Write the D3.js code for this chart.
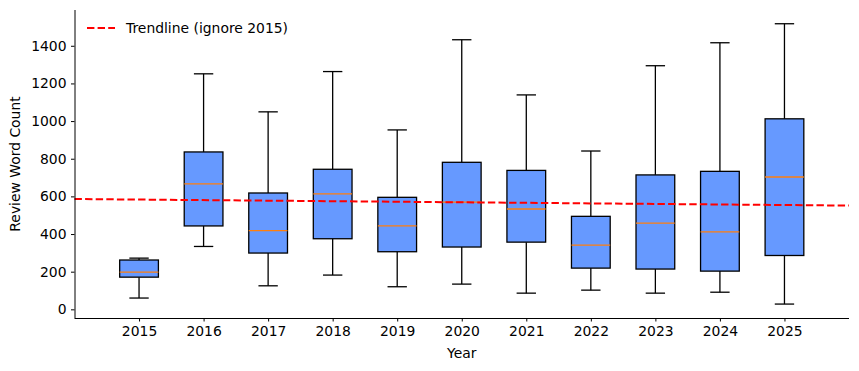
<!DOCTYPE html>
<html>
<head>
<meta charset="utf-8">
<title>Review word count by year</title>
<style>
  html, body { margin: 0; padding: 0; background: #fff; }
  svg { display: block; font-family: "DejaVu Sans", sans-serif; }
</style>
</head>
<body>
<svg id="chart" width="859" height="371"></svg>
<script src="https://cdn.jsdelivr.net/npm/d3@7/dist/d3.min.js"></script>
<script>
// box stats
const years      = ["2015","2016","2017","2018","2019","2020","2021","2022","2023","2024","2025"];
const whiskerLow = [60, 334, 125, 182, 120, 134, 86, 102, 86, 91, 28];
const q1         = [171, 443, 299, 375, 306, 331, 357, 219, 214, 203, 286];
const medians    = [198, 666, 418, 613, 443, 570, 533, 341, 458, 411, 703];
const q3         = [262, 836, 618, 744, 595, 781, 738, 494, 714, 733, 1012];
const whiskerHigh= [272, 1251, 1049, 1263, 953, 1432, 1139, 841, 1294, 1416, 1517];
const yTicks     = [0, 200, 400, 600, 800, 1000, 1200, 1400];
// trendline (ignoring 2015), value at position 0 and slope per position
const trendIntercept = 586;
const trendSlope = -2.9;

const rows = years.map((y, i) => ({
  year: y, pos: i + 1,
  lo: whiskerLow[i], q1: q1[i], med: medians[i], q3: q3[i], hi: whiskerHigh[i]
}));

const svg = d3.select("#chart");
const margin = {left: 74.5, right: 10, top: 10, bottom: 53};
const W = 859, H = 371;
const fs = "13.9px";

const x = d3.scaleLinear().domain([0, 12]).range([margin.left, W - margin.right]);
const y = d3.scaleLinear().domain([-46, 1590]).range([H - margin.bottom, margin.top]);

const boxW = 0.6;
const capW = 0.3;

const g = svg.append("g");

const boxes = g.selectAll("g.box")
  .data(rows)
  .enter()
  .append("g")
  .attr("class", "box");

// whiskers
boxes.append("line")
  .attr("x1", d => x(d.pos)).attr("x2", d => x(d.pos))
  .attr("y1", d => y(d.q3)).attr("y2", d => y(d.hi))
  .style("stroke", "black").style("stroke-width", 1.3);
boxes.append("line")
  .attr("x1", d => x(d.pos)).attr("x2", d => x(d.pos))
  .attr("y1", d => y(d.q1)).attr("y2", d => y(d.lo))
  .style("stroke", "black").style("stroke-width", 1.3);

// caps
boxes.append("line")
  .attr("x1", d => x(d.pos - capW / 2)).attr("x2", d => x(d.pos + capW / 2))
  .attr("y1", d => y(d.hi)).attr("y2", d => y(d.hi))
  .style("stroke", "black").style("stroke-width", 1.3);
boxes.append("line")
  .attr("x1", d => x(d.pos - capW / 2)).attr("x2", d => x(d.pos + capW / 2))
  .attr("y1", d => y(d.lo)).attr("y2", d => y(d.lo))
  .style("stroke", "black").style("stroke-width", 1.3);

// boxes
boxes.append("rect")
  .attr("x", d => x(d.pos - boxW / 2))
  .attr("width", d => x(d.pos + boxW / 2) - x(d.pos - boxW / 2))
  .attr("y", d => y(d.q3))
  .attr("height", d => y(d.q1) - y(d.q3))
  .style("fill", "#6699ff")
  .style("stroke", "black")
  .style("stroke-width", 1.3);

// medians
boxes.append("line")
  .attr("x1", d => x(d.pos - boxW / 2)).attr("x2", d => x(d.pos + boxW / 2))
  .attr("y1", d => y(d.med)).attr("y2", d => y(d.med))
  .style("stroke", "#ff7f0e").style("stroke-width", 1.3);

// trendline, drawn over the boxes
const trendData = x.domain().map(p => [p, trendIntercept + trendSlope * p]);
g.append("path")
  .datum(trendData)
  .attr("d", d3.line().x(d => x(d[0])).y(d => y(d[1])))
  .style("fill", "none")
  .style("stroke", "red")
  .style("stroke-width", 2)
  .style("stroke-dasharray", "7.4,3.2");

// axes
const xAxis = d3.axisBottom(x)
  .tickValues(rows.map(d => d.pos))
  .tickFormat((d, i) => years[i])
  .tickSize(3.5).tickPadding(4.5);
const yAxis = d3.axisLeft(y)
  .tickValues(yTicks)
  .tickFormat(d3.format("d"))
  .tickSize(3.5).tickPadding(4.5);

const gx = svg.append("g")
  .attr("transform", `translate(0,${H - margin.bottom})`)
  .call(xAxis);
const gy = svg.append("g")
  .attr("transform", `translate(${margin.left},0)`)
  .call(yAxis);

[gx, gy].forEach(a => {
  a.select(".domain").style("stroke", "black").style("stroke-width", 1);
  a.selectAll(".tick line").style("stroke", "black").style("stroke-width", 1);
  a.selectAll(".tick text")
    .style("font-family", "DejaVu Sans")
    .style("font-size", fs)
    .style("fill", "black");
});
// no outer ticks at the ends of the spines
gx.select(".domain").attr("d", `M${x(0)},0.5H${x(12)}`);
gy.select(".domain").attr("d", `M0.5,${y(-46)}V${y(1590)}`);

// axis labels
svg.append("text")
  .attr("x", (x(0) + x(12)) / 2)
  .attr("y", 358)
  .attr("text-anchor", "middle")
  .style("font-size", fs)
  .text("Year");
svg.append("text")
  .attr("transform", `translate(20,${(y(-46) + y(1590)) / 2}) rotate(-90)`)
  .attr("text-anchor", "middle")
  .style("font-size", fs)
  .text("Review Word Count");

// legend
const leg = svg.append("g").attr("transform", "translate(87,28)");
leg.append("line")
  .attr("x1", 0).attr("x2", 28)
  .style("stroke", "red").style("stroke-width", 2)
  .style("stroke-dasharray", "7.4,3.2");
leg.append("text")
  .attr("x", 39).attr("y", 5)
  .style("font-size", fs)
  .text("Trendline (ignore 2015)");
</script>
</body>
</html>
